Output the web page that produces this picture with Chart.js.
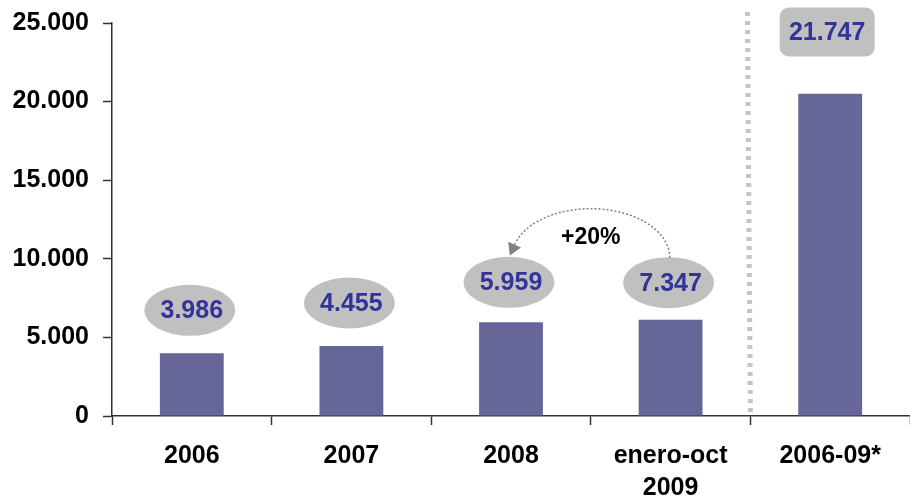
<!DOCTYPE html>
<html>
<head>
<meta charset="utf-8">
<script src="https://cdn.jsdelivr.net/npm/chart.js@4.4.1/dist/chart.umd.min.js"></script>
<style>
  html, body { margin: 0; padding: 0; background: #fff; }
  #wrap { width: 910px; height: 498px; }
</style>
</head>
<body>
<div id="wrap"><canvas id="myChart" width="910" height="498"></canvas></div>
<script>
// data
var categories = ['2006', '2007', '2008', ['enero-oct', '2009'], '2006-09*'];
var barValues = [3986, 4455, 5959, 6130, 20500];
var valueLabels = ['3.986', '4.455', '5.959', '7.347', '21.747'];
var yTicks = [0, 5000, 10000, 15000, 20000, 25000];
var growthLabel = '+20%';

var FONT = "'Liberation Sans', Arial, sans-serif";

function fmt(v) {
    return String(v).replace(/\B(?=(\d{3})+(?!\d))/g, '.');
}

// ellipses / box with the value labels, the separator and the +20% arrow
var annotations = {
    id: 'annotations',
    afterDraw: function (chart) {
        var ctx = chart.ctx;
        var x = chart.scales.x;
        var y = chart.scales.y;
        var area = chart.chartArea;
        var lift = [43, 43, 40, 37];

        ctx.save();

        // dotted separator between the yearly bars and the total
        var sepX = (x.getPixelForValue(3) + x.getPixelForValue(4)) / 2;
        ctx.strokeStyle = '#c4c4c4';
        ctx.lineWidth = 5;
        ctx.setLineDash([4, 5]);
        ctx.beginPath();
        ctx.moveTo(sepX - 3, 12);
        ctx.lineTo(sepX, area.bottom);
        ctx.stroke();
        ctx.setLineDash([]);

        ctx.font = 'bold 25px ' + FONT;
        ctx.textAlign = 'center';
        ctx.textBaseline = 'middle';

        for (var i = 0; i < 4; i++) {
            var cx = x.getPixelForValue(i) - 2;
            var cy = y.getPixelForValue(barValues[i]) - lift[i];
            ctx.fillStyle = '#c0c0c0';
            ctx.beginPath();
            ctx.ellipse(cx, cy, 45.5, 25.5, 0, 0, Math.PI * 2);
            ctx.fill();
            ctx.fillStyle = '#333399';
            ctx.fillText(valueLabels[i], cx + 2, cy + 1);
        }

        // rounded box for the total
        var bx = x.getPixelForValue(4) - 3;
        var by = 32;
        ctx.fillStyle = '#c0c0c0';
        ctx.beginPath();
        ctx.roundRect(bx - 47.5, by - 24.5, 95, 49, 9);
        ctx.fill();
        ctx.fillStyle = '#333399';
        ctx.fillText(valueLabels[4], bx, by + 1);

        // +20% arrow from enero-oct 2009 back to 2008
        var ax = (x.getPixelForValue(2) + x.getPixelForValue(3)) / 2;
        var ay = y.getPixelForValue(barValues[3]) - 62;
        var rx = 79, ry = 49;
        var endA = -Math.PI + 0.27;
        ctx.strokeStyle = '#808080';
        ctx.lineWidth = 1.5;
        ctx.setLineDash([2, 2]);
        ctx.beginPath();
        ctx.ellipse(ax, ay, rx, ry, 0, 0, endA, true);
        ctx.stroke();
        ctx.setLineDash([]);

        var ex = ax + rx * Math.cos(endA);
        var ey = ay + ry * Math.sin(endA);
        var dx = rx * Math.sin(endA), dy = -ry * Math.cos(endA);
        var len = Math.sqrt(dx * dx + dy * dy);
        dx /= len; dy /= len;
        var tipX = ex + dx * 12, tipY = ey + dy * 12;
        ctx.fillStyle = '#808080';
        ctx.beginPath();
        ctx.moveTo(tipX, tipY);
        ctx.lineTo(ex - dy * 7, ey + dx * 7);
        ctx.lineTo(ex + dy * 7, ey - dx * 7);
        ctx.closePath();
        ctx.fill();

        ctx.fillStyle = '#000';
        ctx.font = 'bold 23px ' + FONT;
        ctx.fillText(growthLabel, ax, ay - 20);

        ctx.restore();
    }
};

new Chart(document.getElementById('myChart'), {
    type: 'bar',
    data: {
        labels: categories,
        datasets: [{
            data: barValues,
            backgroundColor: '#666699',
            barPercentage: 0.4,
            categoryPercentage: 1.0
        }]
    },
    options: {
        responsive: false,
        animation: false,
        layout: { padding: { top: 23, left: 0, right: 0, bottom: 0 } },
        plugins: {
            legend: { display: false },
            tooltip: { enabled: false }
        },
        scales: {
            x: {
                afterFit: function (s) {
                    s.height = 82;
                    s.paddingLeft = 0;
                    s.paddingRight = 0;
                },
                grid: {
                    drawOnChartArea: false,
                    drawTicks: true,
                    tickLength: 9,
                    tickWidth: 1.5,
                    color: '#333'
                },
                border: { color: '#333', width: 1.5 },
                ticks: {
                    color: '#000',
                    padding: 15,
                    maxRotation: 0,
                    font: { family: FONT, size: 25, weight: 'bold', lineHeight: 1.28 }
                }
            },
            y: {
                min: 0,
                max: 25000,
                afterFit: function (s) {
                    s.width = 112;
                    s.paddingTop = 0;
                    s.paddingBottom = 0;
                },
                afterBuildTicks: function (s) {
                    s.ticks = yTicks.map(function (v) { return { value: v }; });
                },
                grid: {
                    drawOnChartArea: false,
                    drawTicks: true,
                    tickLength: 9,
                    tickWidth: 1.5,
                    color: '#333'
                },
                border: { color: '#333', width: 1.5 },
                ticks: {
                    color: '#000',
                    padding: 14,
                    font: { family: FONT, size: 25, weight: 'bold' },
                    callback: function (v) { return fmt(v); }
                }
            }
        }
    },
    plugins: [annotations]
});
</script>
</body>
</html>
